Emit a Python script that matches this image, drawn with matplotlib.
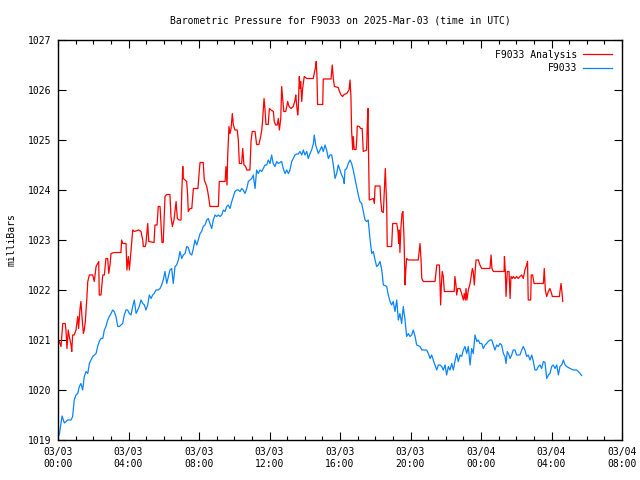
import numpy as np
import matplotlib.pyplot as plt
from matplotlib.ticker import MultipleLocator

# hours since 2025-03-03 00:00 UTC, pressure in mbar
obs_hours = [
    0.07, 0.23, 0.36, 0.55, 0.74, 0.83, 0.92, 1.02, 1.12, 1.21, 1.30, 1.40, 1.49, 1.59, 1.69,
    1.78, 1.87, 1.97, 2.06, 2.16, 2.25, 2.34, 2.44, 2.54, 2.63, 2.72, 2.82, 2.91, 3.01, 3.10,
    3.19, 3.29, 3.39, 3.48, 3.57, 3.67, 3.76, 3.86, 3.95, 4.05, 4.14, 4.24, 4.33, 4.43, 4.52,
    4.61, 4.71, 4.81, 4.90, 4.99, 5.09, 5.18, 5.28, 5.37, 5.46, 5.56, 5.69, 5.79, 5.88, 5.97,
    6.07, 6.17, 6.26, 6.35, 6.45, 6.54, 6.64, 6.73, 6.83, 6.92, 7.02, 7.11, 7.21, 7.30, 7.39,
    7.49, 7.59, 7.68, 7.77, 7.87, 7.96, 8.06, 8.15, 8.24, 8.34, 8.44, 8.53, 8.62, 8.72, 8.81,
    8.91, 9.00, 9.10, 9.19, 9.29, 9.38, 9.48, 9.57, 9.66, 9.76, 9.86, 9.95, 10.04, 10.14, 10.23,
    10.33, 10.42, 10.51, 10.61, 10.71, 10.80, 10.89, 10.99, 11.08, 11.18, 11.27, 11.36, 11.46,
    11.56, 11.65, 11.74, 11.84, 11.93, 12.03, 12.12, 12.21, 12.31, 12.41, 12.50, 12.60, 12.69,
    12.78, 12.88, 12.98, 13.07, 13.16, 13.26, 13.35, 13.45, 13.54, 13.63, 13.73, 13.83, 13.92,
    14.01, 14.11, 14.20, 14.30, 14.39, 14.49, 14.54, 14.62, 14.68, 14.77, 14.87, 14.96, 15.05,
    15.15, 15.24, 15.34, 15.43, 15.53, 15.62, 15.72, 15.81, 15.90, 16.00, 16.09, 16.19, 16.24,
    16.28, 16.38, 16.47, 16.57, 16.66, 16.75, 16.85, 16.95, 17.04, 17.13, 17.23, 17.32, 17.42,
    17.51, 17.60, 17.70, 17.80, 17.89, 17.99, 18.08, 18.17, 18.27, 18.37, 18.46, 18.55, 18.65,
    18.74, 18.84, 18.93, 19.02, 19.12, 19.22, 19.31, 19.40, 19.50, 19.59, 19.69, 19.78, 19.88,
    19.97, 20.07, 20.16, 20.26, 20.35, 20.54, 20.64, 20.92, 21.01, 21.11, 21.20, 21.29, 21.39,
    21.49, 21.58, 21.67, 21.77, 21.86, 21.96, 22.05, 22.15, 22.24, 22.34, 22.43, 22.52, 22.62,
    22.71, 22.81, 22.90, 23.00, 23.09, 23.19, 23.28, 23.38, 23.47, 23.56, 23.66, 23.76, 23.85,
    23.94, 24.04, 24.13, 24.23, 24.32, 24.41, 24.51, 24.61, 24.70, 24.79, 24.89, 24.98, 25.08,
    25.17, 25.27, 25.36, 25.42, 25.49, 25.59, 25.65, 25.74, 25.83, 25.93, 26.02, 26.21, 26.31,
    26.40, 26.49, 26.59, 26.68, 26.78, 26.88, 26.97, 27.06, 27.16, 27.25, 27.35, 27.44, 27.54,
    27.63, 27.73, 27.82, 27.91, 28.01, 28.10, 28.20, 28.30, 28.39, 28.48, 28.58, 28.67, 28.77,
    28.86, 29.05, 29.24, 29.43, 29.52, 29.62, 29.71,
]
obs_mb = [
    1019.10, 1019.48, 1019.34, 1019.40, 1019.40, 1019.47, 1019.80, 1019.90, 1019.93, 1020.07,
    1020.13, 1020.00, 1020.27, 1020.37, 1020.33, 1020.53, 1020.60, 1020.67, 1020.70, 1020.73,
    1020.87, 1020.97, 1021.03, 1021.03, 1021.20, 1021.27, 1021.40, 1021.47, 1021.53, 1021.60,
    1021.57, 1021.47, 1021.27, 1021.27, 1021.30, 1021.33, 1021.50, 1021.60, 1021.60, 1021.53,
    1021.50, 1021.67, 1021.80, 1021.53, 1021.60, 1021.67, 1021.80, 1021.73, 1021.70, 1021.60,
    1021.70, 1021.90, 1021.83, 1021.90, 1021.93, 1022.00, 1022.00, 1022.03, 1022.10, 1022.20,
    1022.37, 1022.13, 1022.27, 1022.40, 1022.43, 1022.13, 1022.47, 1022.50, 1022.60, 1022.77,
    1022.63, 1022.70, 1022.73, 1022.87, 1022.85, 1022.73, 1022.70, 1022.83, 1023.00, 1022.90,
    1023.00, 1023.13, 1023.17, 1023.27, 1023.30, 1023.40, 1023.43, 1023.33, 1023.23, 1023.40,
    1023.50, 1023.47, 1023.50, 1023.47, 1023.50, 1023.60, 1023.57, 1023.67, 1023.70, 1023.63,
    1023.77, 1023.87, 1023.97, 1024.00, 1024.00, 1023.97, 1024.03, 1024.00, 1023.93, 1024.03,
    1024.17, 1024.20, 1024.23, 1024.30, 1024.03, 1024.40, 1024.33, 1024.40, 1024.37, 1024.43,
    1024.50, 1024.50, 1024.60, 1024.53, 1024.70, 1024.53, 1024.47, 1024.57, 1024.53, 1024.55,
    1024.57, 1024.43, 1024.33, 1024.40, 1024.33, 1024.40, 1024.57, 1024.63, 1024.70, 1024.72,
    1024.72, 1024.77, 1024.70, 1024.80, 1024.70, 1024.77, 1024.63, 1024.73, 1024.80, 1024.93,
    1025.10, 1024.90, 1024.83, 1024.73, 1024.80, 1024.87, 1024.77, 1024.90, 1024.80, 1024.63,
    1024.70, 1024.70, 1024.50, 1024.23, 1024.33, 1024.50, 1024.40, 1024.30, 1024.23, 1024.13,
    1024.40, 1024.43, 1024.53, 1024.60, 1024.53, 1024.40, 1024.23, 1024.07, 1023.90, 1023.77,
    1023.73, 1023.57, 1023.40, 1023.37, 1023.40, 1023.03, 1022.73, 1022.77, 1022.60, 1022.47,
    1022.50, 1022.57, 1022.40, 1022.10, 1022.09, 1022.07, 1021.90, 1021.77, 1021.70, 1021.77,
    1021.57, 1021.80, 1021.40, 1021.53, 1021.33, 1021.67, 1021.40, 1021.07, 1021.13, 1021.07,
    1021.10, 1021.20, 1021.07, 1020.90, 1020.87, 1020.80, 1020.80, 1020.73, 1020.63, 1020.70,
    1020.60, 1020.50, 1020.40, 1020.50, 1020.50, 1020.47, 1020.40, 1020.50, 1020.30, 1020.47,
    1020.40, 1020.53, 1020.40, 1020.57, 1020.73, 1020.57, 1020.70, 1020.67, 1020.80, 1020.87,
    1020.73, 1020.87, 1020.50, 1020.83, 1020.73, 1021.10, 1020.97, 1021.00, 1020.93, 1020.93,
    1020.83, 1020.90, 1020.93, 1020.97, 1021.00, 1021.00, 1020.90, 1020.80, 1020.90, 1020.87,
    1020.93, 1020.90, 1020.73, 1020.67, 1020.53, 1020.77, 1020.70, 1020.63, 1020.70, 1020.80,
    1020.80, 1020.70, 1020.70, 1020.80, 1020.87, 1020.80, 1020.67, 1020.70, 1020.60, 1020.70,
    1020.57, 1020.40, 1020.40, 1020.47, 1020.50, 1020.43, 1020.57, 1020.55, 1020.23, 1020.30,
    1020.33, 1020.47, 1020.50, 1020.43, 1020.50, 1020.30, 1020.47, 1020.50, 1020.60, 1020.50,
    1020.47, 1020.43, 1020.40, 1020.40, 1020.37, 1020.33, 1020.29,
]

ana_hours = [
    0.07, 0.17, 0.27, 0.41, 0.45, 0.51, 0.58, 0.64, 0.74, 0.78, 0.83, 0.92, 1.02, 1.12, 1.17,
    1.25, 1.30, 1.36, 1.44, 1.49, 1.55, 1.63, 1.69, 1.78, 1.97, 2.06, 2.16, 2.25, 2.31, 2.34,
    2.44, 2.54, 2.63, 2.72, 2.82, 2.88, 2.95, 3.01, 3.19, 3.57, 3.61, 3.67, 3.86, 3.91, 3.99,
    4.05, 4.14, 4.24, 4.33, 4.58, 4.71, 4.81, 4.84, 4.95, 4.99, 5.09, 5.15, 5.45, 5.50, 5.62,
    5.69, 5.79, 5.84, 5.90, 5.97, 6.03, 6.07, 6.17, 6.35, 6.41, 6.49, 6.58, 6.70, 6.77, 6.87,
    6.98, 7.02, 7.08, 7.11, 7.21, 7.30, 7.36, 7.39, 7.49, 7.59, 7.68, 7.94, 8.02, 8.06, 8.24,
    8.30, 8.44, 8.53, 8.62, 9.10, 9.15, 9.48, 9.53, 9.59, 9.63, 9.70, 9.76, 9.82, 9.89, 9.95,
    10.04, 10.17, 10.23, 10.29, 10.42, 10.48, 10.55, 10.65, 10.71, 10.89, 10.95, 11.02, 11.18,
    11.27, 11.40, 11.50, 11.56, 11.61, 11.69, 11.74, 11.80, 11.93, 11.99, 12.09, 12.22, 12.27,
    12.35, 12.44, 12.50, 12.56, 12.64, 12.69, 12.75, 12.81, 12.92, 12.98, 13.03, 13.11, 13.22,
    13.35, 13.45, 13.49, 13.54, 13.60, 13.63, 13.69, 13.73, 13.77, 13.83, 13.88, 13.97, 14.11,
    14.48, 14.54, 14.62, 14.65, 14.69, 14.73, 15.02, 15.05, 15.49, 15.53, 15.56, 15.62, 15.68,
    15.90, 15.96, 16.06, 16.15, 16.23, 16.38, 16.51, 16.57, 16.62, 16.66, 16.72, 16.75, 16.81,
    16.91, 16.95, 16.98, 17.10, 17.17, 17.26, 17.32, 17.51, 17.55, 17.59, 17.62, 17.66, 17.89,
    17.95, 17.99, 18.27, 18.31, 18.37, 18.46, 18.51, 18.57, 18.65, 18.68, 18.93, 18.99, 19.22,
    19.29, 19.33, 19.36, 19.40, 19.46, 19.52, 19.57, 19.63, 19.69, 19.74, 19.78, 19.88, 20.44,
    20.48, 20.54, 20.60, 20.64, 20.73, 21.39, 21.49, 21.64, 21.67, 21.71, 21.75, 21.80, 21.86,
    21.92, 22.48, 22.52, 22.58, 22.62, 22.68, 22.81, 22.90, 23.00, 23.05, 23.11, 23.15, 23.20,
    23.28, 23.38, 23.47, 23.51, 23.56, 23.62, 23.68, 23.72, 23.85, 23.94, 24.04, 24.51, 24.57,
    24.62, 24.70, 25.31, 25.33, 25.38, 25.42, 25.49, 25.59, 25.65, 25.70, 25.78, 25.83, 25.93,
    26.02, 26.11, 26.21, 26.31, 26.40, 26.49, 26.59, 26.64, 26.68, 26.82, 26.85, 26.93, 27.01,
    27.54, 27.59, 27.65, 27.73, 27.82, 27.91, 27.97, 28.05, 28.45, 28.48, 28.54, 28.60, 28.64,
]
ana_mb = [
    1020.97, 1020.87, 1021.33, 1021.33, 1021.20, 1020.83, 1021.20, 1021.07, 1020.90, 1020.77,
    1021.10, 1021.10, 1021.20, 1021.47, 1021.23, 1021.63, 1021.77, 1021.47, 1021.13, 1021.20,
    1021.37, 1021.80, 1022.17, 1022.30, 1022.30, 1022.17, 1022.47, 1022.53, 1022.57, 1021.90,
    1021.90, 1022.30, 1022.30, 1022.63, 1022.63, 1022.33, 1022.50, 1022.73, 1022.75, 1022.75,
    1023.00, 1022.93, 1022.93, 1022.40, 1022.67, 1022.40, 1022.77, 1023.20, 1023.17, 1023.20,
    1023.17, 1023.00, 1022.87, 1022.87, 1022.93, 1023.33, 1022.97, 1022.95, 1023.30, 1023.30,
    1023.67, 1023.67, 1023.33, 1022.95, 1022.95, 1023.50, 1023.87, 1023.91, 1023.91, 1023.47,
    1023.27, 1023.40, 1023.77, 1023.43, 1023.40, 1023.40, 1023.93, 1024.47, 1024.23, 1024.20,
    1024.17, 1023.87, 1023.57, 1023.63, 1023.63, 1024.03, 1024.03, 1024.40, 1024.55, 1024.55,
    1024.20, 1024.07, 1023.90, 1023.67, 1023.67, 1024.17, 1024.17, 1024.47, 1024.10, 1024.70,
    1025.27, 1025.13, 1025.23, 1025.53, 1025.30, 1025.20, 1025.20, 1025.00, 1024.53, 1024.53,
    1024.83, 1024.50, 1024.47, 1024.40, 1024.40, 1024.97, 1025.17, 1025.17, 1024.91, 1024.91,
    1025.07, 1025.20, 1025.40, 1025.83, 1025.63, 1025.31, 1025.31, 1025.63, 1025.60, 1025.57,
    1025.37, 1025.30, 1025.30, 1025.43, 1025.20, 1025.43, 1026.07, 1025.83, 1025.57, 1025.57,
    1025.67, 1025.77, 1025.67, 1025.63, 1025.67, 1025.80, 1025.90, 1025.70, 1025.50, 1025.60,
    1026.27, 1026.03, 1026.17, 1025.77, 1026.03, 1026.27, 1026.23, 1026.23, 1026.33, 1026.47,
    1026.57, 1026.30, 1025.71, 1025.71, 1026.22, 1026.22, 1026.37, 1026.50, 1026.23, 1026.07,
    1026.05, 1025.98, 1025.90, 1025.87, 1025.91, 1025.93, 1026.00, 1026.20, 1025.87, 1025.17,
    1024.81, 1025.07, 1024.81, 1024.81, 1025.00, 1025.28, 1025.27, 1025.23, 1025.23, 1024.77,
    1024.80, 1025.33, 1025.63, 1024.73, 1023.80, 1023.83, 1023.73, 1024.08, 1024.08, 1023.80,
    1023.57, 1023.55, 1023.93, 1024.43, 1023.67, 1022.87, 1022.87, 1023.33, 1023.33, 1023.17,
    1022.93, 1023.20, 1022.75, 1023.27, 1023.53, 1023.57, 1023.07, 1022.10, 1022.43, 1022.63,
    1022.60, 1022.60, 1022.73, 1022.93, 1022.60, 1022.23, 1022.17, 1022.17, 1022.50, 1022.50,
    1022.13, 1021.70, 1022.10, 1022.37, 1022.27, 1021.97, 1021.97, 1022.27, 1022.10, 1021.90,
    1022.03, 1022.03, 1021.93, 1021.80, 1021.93, 1021.80, 1022.03, 1021.80, 1022.00, 1022.13,
    1022.33, 1022.43, 1022.37, 1022.10, 1022.43, 1022.60, 1022.60, 1022.50, 1022.43, 1022.43,
    1022.70, 1022.43, 1022.37, 1022.37, 1022.67, 1022.37, 1021.87, 1022.37, 1022.37, 1021.83,
    1022.27, 1022.23, 1022.27, 1022.23, 1022.27, 1022.23, 1022.27, 1022.30, 1022.23, 1022.40,
    1022.50, 1022.57, 1021.80, 1021.80, 1022.30, 1022.30, 1022.13, 1022.13, 1022.43, 1022.00,
    1021.87, 1021.97, 1022.03, 1021.97, 1021.87, 1021.87, 1021.97, 1022.13, 1021.93, 1021.77,
]

x_ticks = [0, 4, 8, 12, 16, 20, 24, 28, 32]
x_labels = ['03/03\n00:00', '03/03\n04:00', '03/03\n08:00', '03/03\n12:00', '03/03\n16:00',
            '03/03\n20:00', '03/04\n00:00', '03/04\n04:00', '03/04\n08:00']
y_ticks = [1019, 1020, 1021, 1022, 1023, 1024, 1025, 1026, 1027]

plt.rcParams['font.family'] = 'DejaVu Sans Mono'
plt.rcParams['font.size'] = 7

fig = plt.figure(figsize=(6.4, 4.8), dpi=100)
ax = fig.add_axes([58/640, 40/480, 564/640, 400/480])

ax.plot(ana_hours, ana_mb, color='#ff0000', lw=0.9, label='F9033 Analysis')
ax.plot(obs_hours, obs_mb, color='#0a84ff', lw=0.9, label='F9033')

ax.set_xlim(0, 32)
ax.set_ylim(1019, 1027)
ax.set_xticks(x_ticks)
ax.set_xticklabels(x_labels)
ax.set_yticks(y_ticks)
ax.xaxis.set_minor_locator(MultipleLocator(1))
ax.tick_params(which='both', direction='in', top=True, right=True, width=0.8, labelsize=7)
ax.tick_params(which='major', length=6, pad=5)
ax.tick_params(which='minor', length=3)
for s in ax.spines.values():
    s.set_linewidth(1.0)

ax.set_ylabel('milliBars', fontsize=7, labelpad=8)
ax.set_title('Barometric Pressure for F9033 on 2025-Mar-03 (time in UTC)', fontsize=7, pad=12)

ax.legend(loc='upper right', frameon=False, markerfirst=False, handlelength=3.0,
          fontsize=7, borderaxespad=0.6, labelspacing=0.35, handletextpad=0.6)

plt.savefig('out.png', dpi=100)
